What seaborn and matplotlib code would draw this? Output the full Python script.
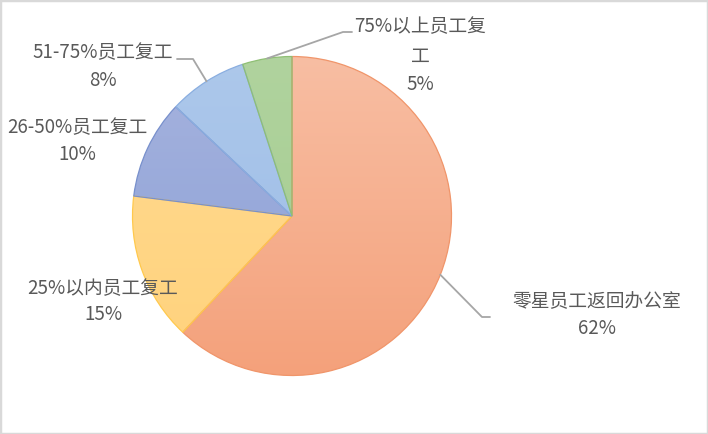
import numpy as np
import seaborn as sns
import matplotlib.pyplot as plt
from matplotlib.patches import Rectangle

# data
categories = ["零星员工返回办公室", "25%以内员工复工", "26-50%员工复工", "51-75%员工复工", "75%以上员工复工"]
shares = [62, 15, 10, 8, 5]
label_text = ["零星员工返回办公室", "25%以内员工复工", "26-50%员工复工", "51-75%员工复工", "75%以上员工复\n工"]
light_colors = ["#F8BEA3", "#FFDB92", "#A7B3DE", "#ADC8EB", "#B0D39E"]
dark_colors = ["#F4A17B", "#FFD27C", "#889FD6", "#9ABBE6", "#A4CC8F"]
edge_colors = ["#F0956A", "#FFC94D", "#7890CC", "#8AAEE0", "#8FBF74"]

W, H = 708, 434
cx, cy, r = 292, 216, 159.5
TEXT = "#595959"
LINE = "#A6A6A6"

sns.set_style("white")
plt.rcParams["font.family"] = ["Noto Sans CJK SC", "DejaVu Sans"]

fig = plt.figure(figsize=(W / 100, H / 100), dpi=100)
ax = fig.add_axes([0, 0, 1, 1])

def Y(y):
    # pixel row -> data y (y axis points up)
    return H - y

wedges, _ = ax.pie(shares, startangle=90, counterclock=False,
                   center=(cx, Y(cy)), radius=r,
                   wedgeprops=dict(linewidth=0.9))

# Excel-style vertical gradient inside each slice
grad = np.linspace(0, 1, 256).reshape(-1, 1)
for w, lc, dc, ec in zip(wedges, light_colors, dark_colors, edge_colors):
    cmap = sns.blend_palette([lc, dc], as_cmap=True)
    im = ax.imshow(grad, cmap=cmap, aspect="auto", origin="upper",
                   extent=(cx - r, cx + r, Y(cy + r), Y(cy - r)), zorder=1)
    im.set_clip_path(w)
    w.set_facecolor("none")
    w.set_edgecolor(ec)
    w.set_zorder(2)

def anchor(w):
    ang = np.deg2rad((w.theta1 + w.theta2) / 2)
    return cx + r * np.cos(ang), Y(cy) + r * np.sin(ang)

# label placement: (x centre, first line y, line step), leader elbow points
layout = [
    (597, 302, 26, [(482, 317), (490, 317)]),
    (103, 289, 26, None),
    (77, 128, 27, None),
    (103, 53, 27, [(193, 59), (177, 59)]),
    (420, 27, 29, [(343, 32), (352, 32)]),
]

for w, txt, share, (tx, ty, step, elbow) in zip(wedges, label_text, shares, layout):
    lines = txt.split("\n") + [f"{share}%"]
    for i, s in enumerate(lines):
        ax.text(tx, Y(ty + i * step), s, ha="center", va="center",
                fontsize=13.5, color=TEXT)
    if elbow:
        ax0, ay0 = anchor(w)
        xs = [ax0] + [p[0] for p in elbow]
        ys = [ay0] + [Y(p[1]) for p in elbow]
        ax.plot(xs, ys, color=LINE, lw=1.3, zorder=3)

ax.set_xlim(0, W)
ax.set_ylim(0, H)
ax.set_aspect("equal")
ax.axis("off")

fig.patches.append(Rectangle((0, 0), 1, 1, transform=fig.transFigure,
                             fill=False, edgecolor="#D9D9D9", lw=2.5))

fig.savefig("out.png", dpi=100, facecolor="white")
